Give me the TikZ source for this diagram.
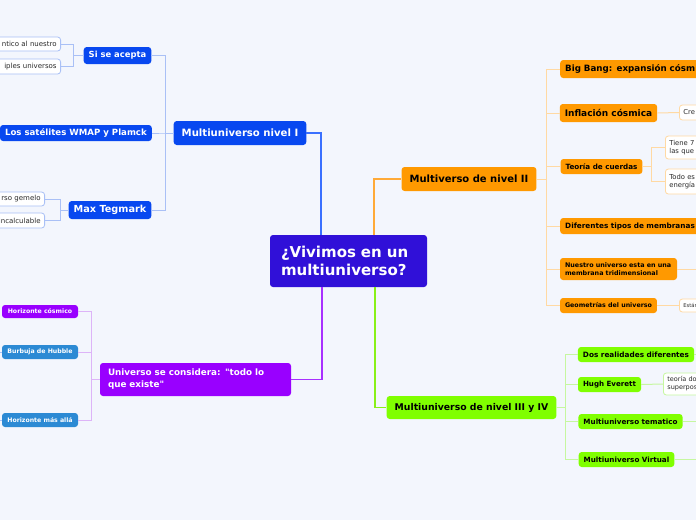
\documentclass[tikz,border=0pt]{standalone}
\usepackage{fontspec}
\setmainfont{DejaVu Sans}
\usetikzlibrary{positioning}
\definecolor{bgcol}{HTML}{F3F6FD}
\definecolor{rootcol}{HTML}{3010D8}
\definecolor{bluecol}{HTML}{0848F0}
\definecolor{orangecol}{HTML}{FF9900}
\definecolor{greencol}{HTML}{80FF00}
\definecolor{purplecol}{HTML}{9900FF}
\definecolor{cyancol}{HTML}{2C8AD4}
\definecolor{bluemid}{HTML}{3A70FF}
\definecolor{orangemid}{HTML}{FFAA38}
\definecolor{purplemid}{HTML}{A830FF}
\definecolor{greenmid}{HTML}{88F018}
\definecolor{bluel}{HTML}{A9C0F6}
\definecolor{orangel}{HTML}{FFD9A3}
\definecolor{greenl}{HTML}{C6F7A0}
\definecolor{purplel}{HTML}{DDB4F8}
\definecolor{leaftext}{HTML}{2A2A2A}
\newcommand{\fs}[2]{\fontsize{#1}{#2}\selectfont}

\tikzset{
  topic/.style={rounded corners=3pt, inner xsep=5pt, inner ysep=0pt, font=\bfseries},
  bluebox/.style={topic, fill=bluecol, text=white},
  purplebox/.style={topic, fill=purplecol, text=white},
  cyanbox/.style={topic, fill=cyancol, text=white},
  orangebox/.style={topic, fill=orangecol, text=black},
  greenbox/.style={topic, fill=greencol, text=black},
  leaf/.style={rounded corners=3pt, fill=white, draw=#1, line width=0.8pt,
    text=leaftext, inner xsep=4pt, inner ysep=0pt},
  link/.style={draw=#1, line width=1pt},
  rootlink/.style={draw=#1, line width=1.4pt},
}

\begin{document}
\begin{tikzpicture}[x=1pt, y=-1pt]
  \useasboundingbox (0,0) rectangle (696,520);
  \fill[bgcol] (0,0) rectangle (696,520);
  \clip (0,0) rectangle (696,520);

  % central topic
  \node[fill=rootcol, text=white, rounded corners=3pt, font=\bfseries\fs{15}{18},
        minimum height=52, text width=135, inner xsep=11pt, align=left] (root) at (348.5,261)
        {¿Vivimos en un\\multiuniverso?};

  % level I
  \node[bluebox, minimum height=24, inner xsep=8pt, font=\bfseries\fs{10.1}{11}] (nivI) at (240,133) {Multiuniverso nivel I};
  \node[bluebox, minimum height=17, font=\bfseries\fs{8.4}{9}] (acepta) at (117.5,55.5) {Si se acepta};
  \node[bluebox, minimum height=16, anchor=east, font=\bfseries\fs{8.6}{9}] (wmap) at (152,133) {Los satélites WMAP y Plamck};
  \node[bluebox, minimum height=18, font=\bfseries\fs{9.7}{10}] (tegmark) at (110,210) {Max Tegmark};
  \node[leaf=bluel, anchor=east, minimum height=14, text width=72, align=right, font=\fs{7}{8}] (identico) at (61,44) {ntico al nuestro};
  \node[leaf=bluel, anchor=east, minimum height=15, text width=72, align=right, font=\fs{7}{8}] (multiples) at (61,66.5) {iples universos};
  \node[leaf=bluel, anchor=east, minimum height=14, text width=60, align=right, font=\fs{7}{8}] (gemelo) at (45,199) {rso gemelo};
  \node[leaf=bluel, anchor=east, minimum height=15, text width=60, align=right, font=\fs{7}{8}] (incalc) at (45,220.5) {incalculable};

  % todo lo que existe
  \node[purplebox, minimum height=33, text width=175, inner xsep=8pt, align=left, font=\bfseries\fs{8.8}{12}] (existe) at (195.5,379.5)
        {Universo se considera: \textquotedbl todo lo\\que existe\textquotedbl};
  \node[purplebox, minimum height=13, minimum width=76, font=\bfseries\fs{6.2}{7}] (cosmico) at (40,311.5) {Horizonte cósmico};
  \node[cyanbox, minimum height=14, minimum width=76, font=\bfseries\fs{6.2}{7}] (hubble) at (40,352) {Burbuja de Hubble};
  \node[cyanbox, minimum height=14, minimum width=76, font=\bfseries\fs{6.2}{7}] (masalla) at (40,420) {Horizonte más allá};

  % level II
  \node[orangebox, minimum height=24, inner xsep=8pt, font=\bfseries\fs{10}{11}] (nivII) at (469,179) {Multiverso de nivel II};
  \node[orangebox, minimum height=18, anchor=west, text width=150, align=left, font=\bfseries\fs{8.7}{10}] (bigbang) at (560,69) {Big Bang: expansión cósm};
  \node[orangebox, minimum height=18, font=\bfseries\fs{9}{10}] (inflacion) at (608.5,113) {Inflación cósmica};
  \node[leaf=orangel, anchor=west, minimum height=15, text width=40, align=left, font=\fs{6.8}{8}] (crece) at (679,112.5) {Cre};
  \node[orangebox, minimum height=15, font=\bfseries\fs{7.2}{8}] (cuerdas) at (601.5,166.5) {Teoría de cuerdas};
  \node[leaf=orangel, anchor=west, minimum height=23, text width=40, align=left, font=\fs{6.8}{8.5}] (siete) at (665,147.5) {Tiene 7\\las que};
  \node[leaf=orangel, anchor=west, minimum height=25, text width=40, align=left, font=\fs{6.8}{8.5}] (energia) at (665,181.5) {Todo es\\energía};
  \node[orangebox, minimum height=16, anchor=west, text width=150, align=left, font=\bfseries\fs{7.3}{8}] (membranas) at (560,226) {Diferentes tipos de membranas};
  \node[orangebox, minimum height=22, text width=107, align=left, font=\bfseries\fs{6.4}{8}] (tridim) at (618.5,269)
        {Nuestro universo esta en una\\membrana tridimensional};
  \node[orangebox, minimum height=15, font=\bfseries\fs{6.3}{7}] (geometria) at (608.5,305.5) {Geometrías del universo};
  \node[leaf=orangel, anchor=west, minimum height=13, text width=40, align=left, font=\fs{5.2}{6}] (estan) at (679,305.5) {Están};

  % level III and IV
  \node[greenbox, minimum height=23, inner xsep=8pt, font=\bfseries\fs{9.3}{10}] (nivIII) at (471.5,407.5) {Multiuniverso de nivel III y IV};
  \node[greenbox, minimum height=15, font=\bfseries\fs{7.3}{8}] (realidades) at (636,354.5) {Dos realidades diferentes};
  \node[greenbox, minimum height=15, font=\bfseries\fs{7.1}{8}] (everett) at (609.5,384.5) {Hugh Everett};
  \node[leaf=greenl, anchor=west, minimum height=22, text width=40, align=left, font=\fs{6.5}{8}] (teoria) at (663,384) {teoría do\\superpos};
  \node[greenbox, minimum height=15, font=\bfseries\fs{7.2}{8}] (tematico) at (630.5,421.5) {Multiuniverso tematico};
  \node[greenbox, minimum height=15, font=\bfseries\fs{7.2}{8}] (virtual) at (626.5,459.5) {Multiuniverso Virtual};

  % free ends past the border
  \coordinate (hubble-out) at (-6,352);
  \coordinate (masalla-out) at (-6,420);
  \coordinate (tridim-out) at (702,269);
  \coordinate (realidades-out) at (702,354.5);
  \coordinate (tematico-out) at (702,421.5);
  \coordinate (virtual-out) at (702,459.5);

  % links from the central topic
  \draw[rootlink=bluemid] ([xshift=-27.5pt]root.north) |- (nivI.east);
  \draw[rootlink=orangemid] ([xshift=25.5pt]root.north) |- (nivII.west);
  \draw[rootlink=purplemid] ([xshift=-26.5pt]root.south) |- (existe.east);
  \draw[rootlink=greenmid] ([xshift=26.5pt]root.south) |- (nivIII.west);

  % branch links
  \foreach \c in {acepta, wmap, tegmark}
    \draw[link=bluel] (nivI.west) -- ++(-8,0) |- (\c.east);
  \foreach \c in {identico, multiples}
    \draw[link=bluel] (acepta.west) -- ++(-10,0) |- (\c.east);
  \foreach \c in {gemelo, incalc}
    \draw[link=bluel] (tegmark.west) -- ++(-8,0) |- (\c.east);
  \foreach \c in {cosmico, hubble, masalla}
    \draw[link=purplel] (existe.west) -- ++(-8,0) |- (\c.east);
  \draw[link=bluel] (hubble.west) -- (hubble-out);
  \draw[link=bluel] (masalla.west) -- (masalla-out);

  \foreach \c in {bigbang, inflacion, cuerdas, membranas, tridim, geometria}
    \draw[link=orangel] (nivII.east) -- ++(10,0) |- (\c.west);
  \draw[link=orangel] (inflacion.east) -- (crece.west);
  \foreach \c in {siete, energia}
    \draw[link=orangel] (cuerdas.east) -- ++(9,0) |- (\c.west);
  \draw[link=orangel] (tridim.east) -- (tridim-out);
  \draw[link=orangel] (geometria.east) -- (estan.west);

  \foreach \c in {realidades, everett, tematico, virtual}
    \draw[link=greenl] (nivIII.east) -- ++(9,0) |- (\c.west);
  \draw[link=greenl] (everett.east) -- (teoria.west);
  \draw[link=greenl] (realidades.east) -- (realidades-out);
  \draw[link=greenl] (tematico.east) -- (tematico-out);
  \draw[link=greenl] (virtual.east) -- (virtual-out);
\end{tikzpicture}
\end{document}
